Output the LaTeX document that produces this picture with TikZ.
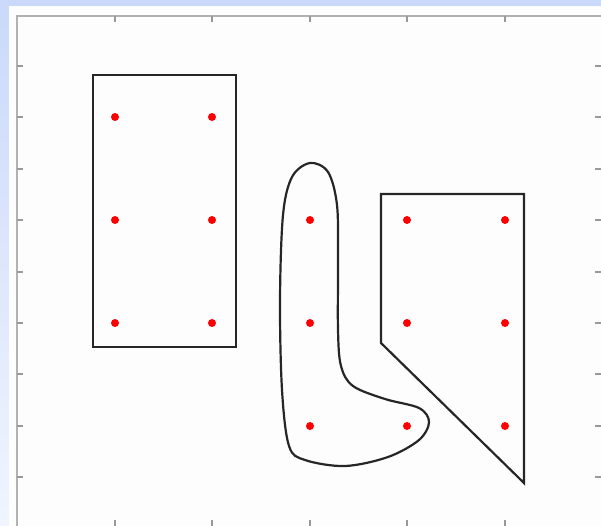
\documentclass[tikz,border=0pt]{standalone}
\definecolor{bgtop}{RGB}{202,217,250}
\definecolor{bgbot}{RGB}{240,245,254}
\definecolor{panel}{RGB}{253,253,253}
\begin{document}
\begin{tikzpicture}[x=1pt,y=-1pt,
  outl/.style={draw=black!85,line width=2.2pt,line join=miter},
  pt/.style={circle,fill=red,inner sep=0pt,minimum size=8pt},
  tickl/.style={draw=black!40,line width=1.3pt},
  frm/.style={draw=black!30,line width=2pt}]
\useasboundingbox (0,0) rectangle (601,526);
% background
\fill[top color=bgtop,bottom color=bgbot] (0,0) rectangle (601,526);
\fill[bgtop] (0,0) rectangle (601,6);
\fill[panel] (9,6) rectangle (601,526);
% frame
\draw[frm] (17,526) -- (17,16) -- (601,16);
\foreach \x in {115,212,310,407,505}{
  \draw[tickl] (\x,16) -- (\x,22);
  \draw[tickl] (\x,526) -- (\x,520);
}
\foreach \y in {66,117,169,220,272,323,374,426,477}{
  \draw[tickl] (17,\y) -- (23,\y);
  \draw[tickl] (601,\y) -- (595,\y);
}
% shapes
\draw[outl] (93,75) rectangle (236,347);
\draw[outl] (381,194) -- (524,194) -- (524,483) -- (381,343) -- cycle;
\draw[outl] plot[smooth cycle,tension=0.55] coordinates {
 (310,163) (328,172) (337,205) (338,260) (338,330) (341,366) (353,386)
 (385,399) (419,408) (429,422) (419,440) (388,457) (345,466) (305,460)
 (289,446) (282,390) (280,300) (283,215) (292,177)};
% points
\foreach \x/\n in {115/a,212/b}{
  \foreach \y/\m in {117/1,220/2,323/3}{
    \node[pt] (p\n\m) at (\x,\y) {};
  }
}
\node[pt] (pc2) at (310,220) {};
\node[pt] (pc3) at (310,323) {};
\node[pt] (pc4) at (310,426) {};
\node[pt] (pd2) at (407,220) {};
\node[pt] (pd3) at (407,323) {};
\node[pt] (pd4) at (407,426) {};
\node[pt] (pe2) at (505,220) {};
\node[pt] (pe3) at (505,323) {};
\node[pt] (pe4) at (505,426) {};
\end{tikzpicture}
\end{document}
